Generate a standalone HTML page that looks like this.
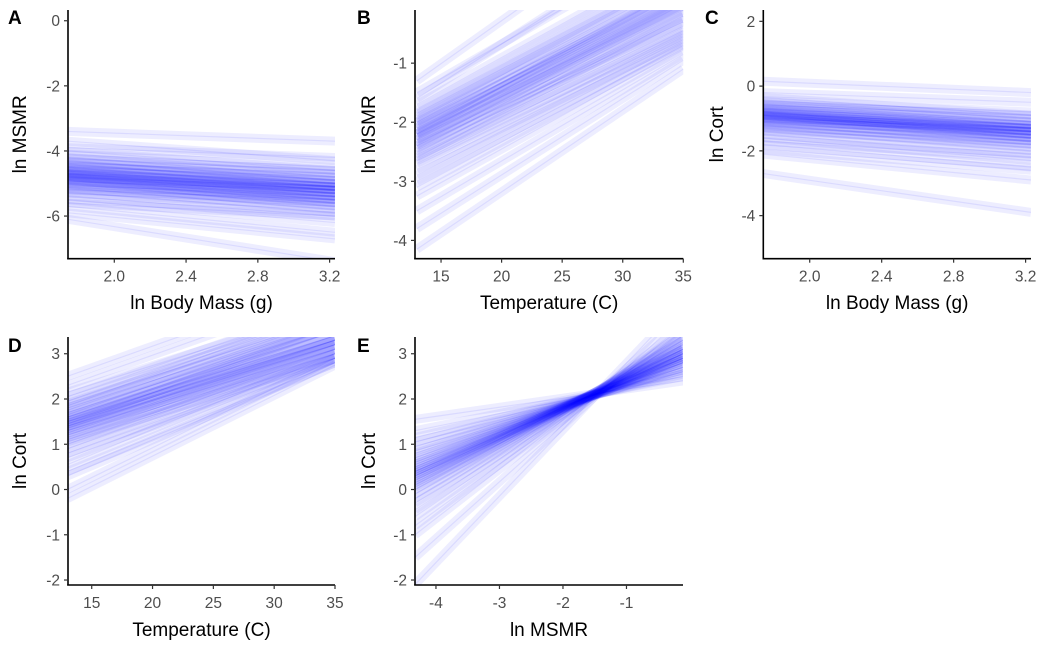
<!DOCTYPE html>
<html><head><meta charset="utf-8"><style>
body{margin:0;background:#fff;}
svg text{font-family:"Liberation Sans",Arial,sans-serif;}
</style></head><body>
<svg id="fig" width="1042" height="651" viewBox="0 0 1042 651" xmlns="http://www.w3.org/2000/svg"></svg>
<script>
// Panel A: ln MSMR vs ln Body Mass
const aStart=[-3.4,-3.7,-3.9,-4.0,-4.1,-4.2,-4.25,-4.3,-4.35,-4.4,-4.45,-4.5,-4.5,-4.55,-4.6,-4.6,-4.65,-4.7,-4.7,-4.7,-4.75,-4.75,-4.8,-4.8,-4.85,-4.85,-4.9,-4.9,-4.95,-5.0,-5.0,-5.05,-5.1,-5.15,-5.2,-5.25,-5.3,-5.4,-5.5,-5.6,-5.7,-5.9,-6.1];
const aEnd=[-3.7,-4.3,-4.2,-4.6,-4.5,-4.8,-4.6,-4.9,-4.7,-5.0,-4.9,-4.8,-5.1,-5.0,-5.2,-5.0,-5.1,-5.3,-5.1,-5.2,-5.4,-5.2,-5.3,-5.1,-5.5,-5.3,-5.4,-5.6,-5.2,-5.5,-5.7,-5.4,-5.6,-5.8,-5.5,-5.9,-5.7,-6.0,-6.2,-6.0,-6.5,-6.7,-7.4];
// Panel B: ln MSMR vs Temperature
const bStart=[-1.3,-1.5,-1.6,-1.7,-1.8,-1.85,-1.9,-1.95,-2.0,-2.0,-2.05,-2.1,-2.1,-2.15,-2.2,-2.2,-2.2,-2.25,-2.3,-2.3,-2.35,-2.4,-2.4,-2.45,-2.5,-2.55,-2.6,-2.65,-2.7,-2.8,-2.9,-3.0,-3.1,-3.25,-3.5,-3.8,-4.15];
const bEnd=[1.9,1.1,1.3,0.8,0.7,0.5,0.6,0.4,0.3,0.5,0.2,0.3,0.1,0.2,0.1,0.0,0.3,-0.1,0.1,0.0,-0.2,0.0,-0.3,-0.1,-0.3,-0.4,-0.2,-0.5,-0.45,-0.6,-0.55,-0.65,-0.7,-0.75,-0.85,-0.95,-1.1];
// Panel C: ln Cort vs ln Body Mass
const cStart=[0.15,-0.2,-0.35,-0.45,-0.5,-0.55,-0.6,-0.65,-0.7,-0.7,-0.75,-0.8,-0.8,-0.85,-0.85,-0.9,-0.9,-0.9,-0.95,-0.95,-1.0,-1.0,-1.05,-1.1,-1.1,-1.15,-1.2,-1.25,-1.3,-1.35,-1.4,-1.5,-1.6,-1.7,-1.8,-1.95,-2.1,-2.7];
const cEnd=[-0.2,-0.5,-0.9,-0.8,-1.0,-1.1,-0.9,-1.2,-1.1,-1.3,-1.2,-1.3,-1.4,-1.2,-1.5,-1.3,-1.4,-1.6,-1.4,-1.5,-1.3,-1.6,-1.5,-1.7,-1.4,-1.6,-1.8,-1.7,-1.9,-1.8,-2.0,-2.1,-2.3,-2.2,-2.5,-2.6,-2.9,-3.9];
// Panel D: ln Cort vs Temperature
const dStart=[2.5,2.3,2.15,2.05,1.95,1.9,1.85,1.8,1.75,1.7,1.65,1.6,1.6,1.55,1.5,1.5,1.45,1.45,1.4,1.4,1.35,1.3,1.3,1.25,1.2,1.15,1.1,1.05,1.0,0.9,0.8,0.7,0.55,0.4,0.3,0.0,-0.2];
const dEnd=[4.6,4.4,4.0,4.1,3.9,3.8,4.0,3.7,3.8,3.6,3.7,3.5,3.6,3.4,3.5,3.3,3.6,3.3,3.4,3.2,3.3,3.1,3.2,3.3,3.0,3.1,3.2,2.9,3.0,3.1,2.9,2.9,3.0,2.8,2.8,2.9,2.75];
// Panel E: ln Cort vs ln MSMR
const eStart=[1.55,1.3,1.15,1.05,0.95,0.85,0.8,0.7,0.65,0.6,0.55,0.5,0.45,0.4,0.4,0.35,0.3,0.3,0.25,0.2,0.15,0.1,0.05,0.0,-0.1,-0.2,-0.3,-0.45,-0.6,-0.8,-1.0,-1.5,-2.1];
const eEnd=[2.4,2.5,2.55,2.6,2.65,2.7,2.7,2.8,2.8,2.85,2.85,2.9,2.9,2.95,2.9,3.0,3.0,3.05,3.0,3.1,3.1,3.15,3.1,3.2,3.25,3.3,3.3,3.4,3.45,3.5,3.6,3.8,4.1];
// tick labels
const massTicks=[2.0,2.4,2.8,3.2];
const tempTicks=[15,20,25,30,35];
const msmrTicks=[-4,-3,-2,-1];
const aYTicks=[0,-2,-4,-6];
const bYTicks=[-1,-2,-3,-4];
const cYTicks=[2,0,-2,-4];
const cortTicks=[3,2,1,0,-1,-2];

const NS="http://www.w3.org/2000/svg";
const fig=document.getElementById('fig');
function el(tag,attrs,parent){const e=document.createElementNS(NS,tag);for(const k in attrs)e.setAttribute(k,attrs[k]);(parent||fig).appendChild(e);return e;}

const panels=[
 {id:'a',letter:'A',lx:8,ly:24,px0:68,px1:335,py0:10,py1:258.7,xd:[1.742,3.23],yd:[0.33,-7.31],xs:1.742,xe:3.23,s:aStart,e:aEnd,xt:massTicks,yt:aYTicks,xfmt:v=>v.toFixed(1),xl:'ln Body Mass (g)',yl:'ln MSMR',ylx:20,xly:309},
 {id:'b',letter:'B',lx:357,ly:24,px0:415,px1:683.3,py0:10,py1:258.7,xd:[12.85,35],yd:[-0.1,-4.31],xs:13,xe:35,s:bStart,e:bEnd,xt:tempTicks,yt:bYTicks,xfmt:v=>String(v),xl:'Temperature (C)',yl:'ln MSMR',ylx:369,xly:309},
 {id:'c',letter:'C',lx:705,ly:24,px0:763.3,px1:1031,py0:10,py1:258.7,xd:[1.742,3.23],yd:[2.35,-5.33],xs:1.742,xe:3.23,s:cStart,e:cEnd,xt:massTicks,yt:cYTicks,xfmt:v=>v.toFixed(1),xl:'ln Body Mass (g)',yl:'ln Cort',ylx:717,xly:309},
 {id:'d',letter:'D',lx:8,ly:352,px0:68,px1:335,py0:337,py1:585,xd:[13.05,35],yd:[3.37,-2.11],xs:13,xe:35,s:dStart,e:dEnd,xt:tempTicks,yt:cortTicks,xfmt:v=>String(v),xl:'Temperature (C)',yl:'ln Cort',ylx:20,xly:636},
 {id:'e',letter:'E',lx:357,ly:352,px0:415,px1:683,py0:337,py1:585,xd:[-4.33,-0.11],yd:[3.37,-2.11],xs:-4.33,xe:-0.11,s:eStart,e:eEnd,xt:msmrTicks,yt:cortTicks,xfmt:v=>String(v),xl:'ln MSMR',yl:'ln Cort',ylx:369,xly:636}
];

const defs=el('defs',{});
panels.forEach(p=>{
  const xS=v=>p.px0+(v-p.xd[0])/(p.xd[1]-p.xd[0])*(p.px1-p.px0);
  const yS=v=>p.py0+(v-p.yd[0])/(p.yd[1]-p.yd[0])*(p.py1-p.py0);
  const g=el('g',{});
  
  
  const cp=el('clipPath',{id:'clip-'+p.id},defs);
  el('rect',{x:p.px0,y:p.py0,width:p.px1-p.px0,height:p.py1-p.py0},cp);
  const lg=el('g',{'clip-path':'url(#clip-'+p.id+')'},g);
  
  
  const n=Math.min(p.s.length,p.e.length);
  for(let i=0;i<n;i++){
    const halo=el('line',{x1:xS(p.xs),y1:yS(p.s[i]),x2:xS(p.xe),y2:yS(p.e[i]),stroke:'#0000ff','stroke-width':9,'stroke-opacity':0.07},lg);
    
    
    const ln=el('line',{x1:xS(p.xs),y1:yS(p.s[i]),x2:xS(p.xe),y2:yS(p.e[i]),stroke:'#0000ff','stroke-width':1.2,'stroke-opacity':0.08},lg);
    
    
  }
  const ax=el('line',{x1:p.px0,y1:p.py0,x2:p.px0,y2:p.py1+0.5,stroke:'#000','stroke-width':1.6},g);
  
  
  const bx=el('line',{x1:p.px0-0.8,y1:p.py1,x2:p.px1,y2:p.py1,stroke:'#000','stroke-width':1.6},g);
  
  
  p.yt.forEach(v=>{
    const y=yS(v);
    el('line',{x1:p.px0-4,y1:y,x2:p.px0,y2:y,stroke:'#333','stroke-width':1.2},g);
    const t=el('text',{x:p.px0-8,y:y+5.5,'text-anchor':'end','font-size':15.5,fill:'#4d4d4d'},g);
    t.textContent=String(v);
    
    
  });
  p.xt.forEach(v=>{
    const x=xS(v);
    el('line',{x1:x,y1:p.py1,x2:x,y2:p.py1+4,stroke:'#333','stroke-width':1.2},g);
    const t=el('text',{x:x,y:p.py1+23,'text-anchor':'middle','font-size':15.5,fill:'#4d4d4d'},g);
    t.textContent=p.xfmt(v);
    
    
  });
  const xt=el('text',{x:(p.px0+p.px1)/2,y:p.xly,'text-anchor':'middle','font-size':19,fill:'#000'},g);
  xt.textContent=p.xl;
  
  
  const cy=(p.py0+p.py1)/2;
  const yt=el('text',{x:p.ylx+6,y:cy,'text-anchor':'middle','font-size':19,fill:'#000',transform:'rotate(-90 '+(p.ylx+6)+' '+cy+')'},g);
  yt.textContent=p.yl;
  
  
  const lt=el('text',{x:p.lx,y:p.ly,'font-size':19,'font-weight':'bold',fill:'#000'},g);
  lt.textContent=p.letter;
  
  
});
</script>
</body></html>
